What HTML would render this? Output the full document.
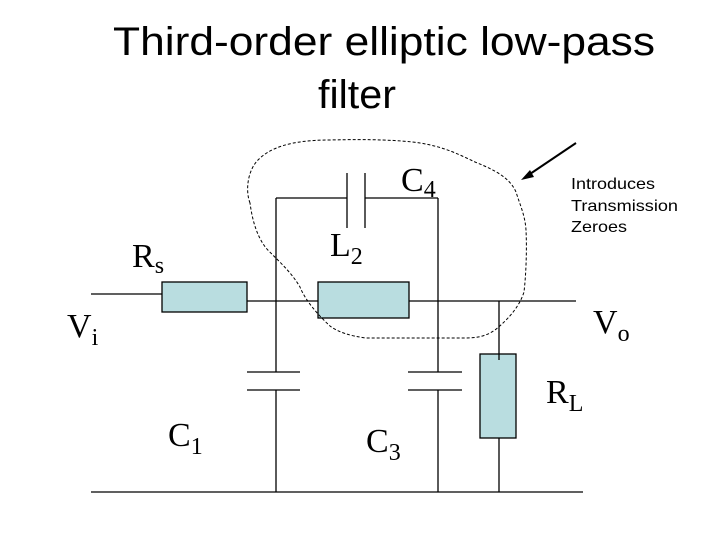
<!DOCTYPE html>
<html><head><meta charset="utf-8"><style>
html,body{margin:0;padding:0;background:#fff;}
svg{display:block;}
.s{font-family:"Liberation Serif",serif;fill:#000;}
.a{font-family:"Liberation Sans",sans-serif;fill:#000;}
</style></head><body>
<svg width="720" height="540" viewBox="0 0 720 540" xmlns="http://www.w3.org/2000/svg">
<text class="a" x="113" y="55" font-size="40" textLength="542" lengthAdjust="spacingAndGlyphs">Third-order  elliptic low-pass</text>
<text class="a" x="318" y="108" font-size="40" textLength="78" lengthAdjust="spacingAndGlyphs">filter</text>

<g stroke="#000" stroke-width="1.3" fill="none">
<line x1="91" y1="294" x2="162" y2="294"/>
<line x1="247" y1="301" x2="318" y2="301"/>
<line x1="409" y1="301" x2="576" y2="301"/>
<line x1="91" y1="492" x2="583" y2="492"/>
<line x1="276" y1="198" x2="276" y2="372"/>
<line x1="276" y1="390" x2="276" y2="492"/>
<line x1="247" y1="372" x2="300" y2="372"/>
<line x1="247" y1="390" x2="300" y2="390"/>
<line x1="438" y1="198" x2="438" y2="372"/>
<line x1="438" y1="390" x2="438" y2="492"/>
<line x1="408" y1="372" x2="462" y2="372"/>
<line x1="408" y1="390" x2="462" y2="390"/>
<line x1="276" y1="198" x2="347" y2="198"/>
<line x1="365" y1="198" x2="438" y2="198"/>
<line x1="347" y1="173" x2="347" y2="228"/>
<line x1="365" y1="173" x2="365" y2="228"/>
<line x1="499" y1="301" x2="499" y2="492"/>
</g>
<rect x="162" y="282" width="85" height="30" fill="#b9dde0" stroke="#000" stroke-width="1.3"/>
<rect x="318" y="282" width="91" height="36" fill="#b9dde0" stroke="#000" stroke-width="1.3"/>
<rect x="480" y="354" width="36" height="84" fill="#b9dde0" stroke="#000" stroke-width="1.3"/>
<line x1="499" y1="354" x2="499" y2="360" stroke="#000" stroke-width="1.3"/>

<path d="M250,203 C245,190 248,170 258,160 C270,148 290,140 330,140 C370,139 400,140 420,143 C445,147 460,155 475,162 C495,170 510,178 516,192 C520,205 525,215 526,230 C527,250 526,275 524,292 C520,305 510,318 495,330 C485,337 475,338 465,338 L366,338 C350,336 338,332 330,326 C318,315 305,300 300,287 C290,270 275,258 266,248 C256,235 252,218 250,203 Z" fill="none" stroke="#000" stroke-width="1" stroke-dasharray="3,2"/>

<line x1="576" y1="143" x2="527" y2="176" stroke="#000" stroke-width="2"/>
<polygon points="521,180 530,170 534,177" fill="#000"/>

<text class="a" x="571" y="189" font-size="16" textLength="84" lengthAdjust="spacingAndGlyphs">Introduces</text>
<text class="a" x="571" y="211" font-size="16" textLength="107" lengthAdjust="spacingAndGlyphs">Transmission</text>
<text class="a" x="571" y="232" font-size="16" textLength="56" lengthAdjust="spacingAndGlyphs">Zeroes</text>

<text class="s" x="401" y="191" font-size="34">C<tspan font-size="24" dy="6">4</tspan></text>
<text class="s" x="330" y="256" font-size="34">L<tspan font-size="24" dy="8">2</tspan></text>
<text class="s" x="132" y="267" font-size="34">R<tspan font-size="24" dy="6">s</tspan></text>
<text class="s" x="67" y="337" font-size="34">V<tspan font-size="24" dy="8">i</tspan></text>
<text class="s" x="593" y="333" font-size="34">V<tspan font-size="24" dy="8">o</tspan></text>
<text class="s" x="546" y="403" font-size="34">R<tspan font-size="24" dy="8">L</tspan></text>
<text class="s" x="168" y="446" font-size="34">C<tspan font-size="24" dy="8">1</tspan></text>
<text class="s" x="366" y="452" font-size="34">C<tspan font-size="24" dy="8">3</tspan></text>
</svg>
</body></html>
